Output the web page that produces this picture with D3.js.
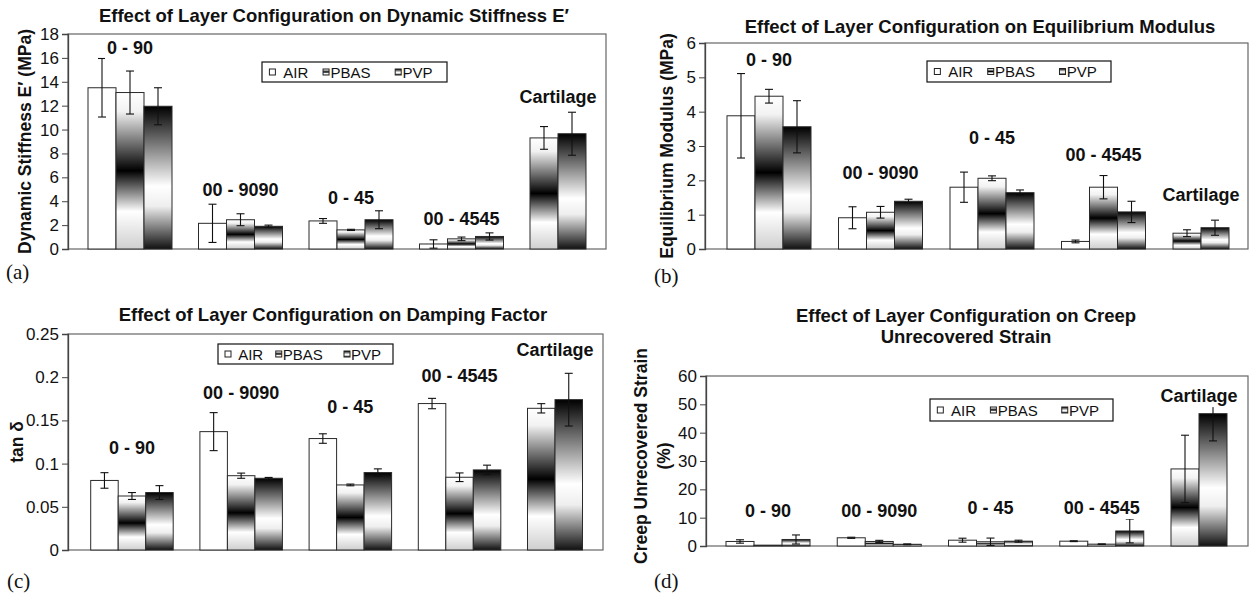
<!DOCTYPE html>
<html>
<head>
<meta charset="utf-8">
<script src="https://cdn.jsdelivr.net/npm/d3@7"></script>
<style>
body { margin: 0; background: #fff; }
svg { display: block; font-family: "Liberation Sans", Arial, sans-serif; }
</style>
</head>
<body>
<svg id="chart" width="1250" height="594"></svg>
<script>
// categories (layer configurations) and series (fabrication methods)
const categories = ["0 - 90", "00 - 9090", "0 - 45", "00 - 4545", "Cartilage"];
const seriesNames = ["AIR", "PBAS", "PVP"];

// (a) dynamic stiffness E' (MPa), one row per series
const stiffnessMeans = [
  [13.5, 2.15, 2.35, 0.42, null],
  [13.1, 2.45, 1.6, 0.85, 9.3],
  [11.95, 1.9, 2.45, 1.05, 9.65]
];
const stiffnessErrors = [
  [2.45, 1.6, 0.2, 0.35, null],
  [1.8, 0.5, 0.05, 0.15, 0.95],
  [1.55, 0.1, 0.75, 0.3, 1.8]
];

// (b) equilibrium modulus (MPa)
const modulusMeans = [
  [3.88, 0.91, 1.8, 0.22, null],
  [4.45, 1.07, 2.06, 1.8, 0.46],
  [3.56, 1.39, 1.64, 1.08, 0.62]
];
const modulusErrors = [
  [1.23, 0.32, 0.44, 0.04, null],
  [0.2, 0.17, 0.07, 0.34, 0.1],
  [0.76, 0.06, 0.08, 0.31, 0.22]
];

// (c) damping factor tan delta
const dampingMeans = [
  [0.0805, 0.137, 0.129, 0.1695, null],
  [0.0625, 0.086, 0.0753, 0.0842, 0.164],
  [0.0665, 0.083, 0.0896, 0.0927, 0.174]
];
const dampingErrors = [
  [0.009, 0.022, 0.0055, 0.006, null],
  [0.004, 0.003, 0.001, 0.005, 0.0054],
  [0.008, 0.001, 0.0043, 0.0055, 0.0305]
];

// (d) creep unrecovered strain (%)
const creepMeans = [
  [1.6, 2.9, 2.05, 1.7, null],
  [0.3, 1.6, 1.5, 0.65, 27.2],
  [2.3, 0.6, 1.7, 5.3, 46.7]
];
const creepErrors = [
  [0.6, 0.2, 0.7, 0.15, null],
  [0, 0.4, 1.3, 0.1, 11.9],
  [1.6, 0.15, 0.35, 4.2, 9.6]
];

const svg = d3.select("#chart");
const defs = svg.append("defs");

// gradient fills like the excel "from center" shading
function addGradient(id, stops) {
  const g = defs.append("linearGradient")
    .attr("id", id)
    .attr("x1", 0).attr("y1", 0).attr("x2", 0).attr("y2", 1);
  stops.forEach(s => g.append("stop").attr("offset", s[0]).attr("stop-color", s[1]));
}
addGradient("gradPBAS", [[0, "#fff"], [0.12, "#f2f2f2"], [0.5, "#000"], [0.76, "#fff"], [1, "#cfcfcf"]]);
addGradient("gradPVP", [[0, "#000"], [0.56, "#fff"], [0.7, "#eee"], [1, "#111"]]);
const fills = ["#fff", "url(#gradPBAS)", "url(#gradPVP)"];

const panels = [
  {
    means: stiffnessMeans, errors: stiffnessErrors, yMax: 18, yStep: 2,
    left: 68, top: 34, right: 606, bottom: 249, groupStart: 88, step: 110.5, barW: 28,
    title: ["Effect of Layer Configuration on Dynamic Stiffness E\u2032"], titleX: 334, titleY: 22,
    yTitle: ["Dynamic Stiffness E\u2032 (MPa)"], yTitleX: [31],
    labelAt: [16.8, 4.94, 4.27, 2.5, 12.7],
    legend: {x: 262, y: 62, w: 185, h: 20},
    letter: "(a)", letterX: 6, letterY: 279
  },
  {
    means: modulusMeans, errors: modulusErrors, yMax: 6, yStep: 1,
    left: 705, top: 43, right: 1248, bottom: 249, groupStart: 727, step: 111.5, barW: 28,
    title: ["Effect of Layer Configuration on Equilibrium Modulus"], titleX: 980, titleY: 33,
    yTitle: ["Equilibrium Modulus (MPa)"], yTitleX: [673],
    labelAt: [5.5, 2.21, 3.23, 2.74, 1.57],
    legend: {x: 927, y: 61, w: 184, h: 21},
    letter: "(b)", letterX: 654, letterY: 283
  },
  {
    means: dampingMeans, errors: dampingErrors, yMax: 0.25, yStep: 0.05,
    left: 68, top: 334, right: 603, bottom: 550, groupStart: 90.7, step: 109.2, barW: 27.5,
    title: ["Effect of Layer Configuration on Damping Factor"], titleX: 333, titleY: 321,
    yTitle: ["tan \u03b4"], yTitleX: [23],
    labelAt: [0.118, 0.1817, 0.1655, 0.2014, 0.2315],
    legend: {x: 218, y: 344, w: 175, h: 20},
    letter: "(c)", letterX: 7, letterY: 588
  },
  {
    means: creepMeans, errors: creepErrors, yMax: 60, yStep: 10,
    left: 706, top: 376, right: 1248, bottom: 546, groupStart: 726, step: 111.25, barW: 28,
    title: ["Effect of Layer Configuration on Creep", "Unrecovered Strain"], titleX: 966, titleY: 322,
    yTitle: ["Creep Unrecovered Strain", "(%)"], yTitleX: [647, 670],
    labelAt: [12.35, 12.35, 13.4, 13.4, 52.9],
    legend: {x: 930, y: 399, w: 183, h: 22},
    letter: "(d)", letterX: 654, letterY: 588
  }
];

panels.forEach(drawPanel);

function drawPanel(p) {
  const g = svg.append("g");

  const y = d3.scaleLinear().domain([0, p.yMax]).range([p.bottom, p.top]);
  const pad = 1 - 3 * p.barW / p.step;
  const r0 = p.groupStart - p.step * pad / 2;
  const x0 = d3.scaleBand()
    .domain(categories)
    .range([r0, r0 + p.step * categories.length])
    .paddingInner(pad)
    .paddingOuter(pad / 2);
  const x1 = d3.scaleBand().domain(d3.range(seriesNames.length)).range([0, x0.bandwidth()]);

  // plot frame
  g.append("rect")
    .attr("x", p.left).attr("y", p.top)
    .attr("width", p.right - p.left).attr("height", p.bottom - p.top)
    .attr("fill", "none").attr("stroke", "#666").attr("stroke-width", 1.2);

  // y axis
  const nTicks = Math.round(p.yMax / p.yStep);
  const axis = d3.axisLeft(y)
    .tickValues(d3.range(nTicks + 1).map(i => i * p.yStep))
    .tickFormat(d3.format("~g"))
    .tickSize(6).tickPadding(3);
  const ag = g.append("g").attr("transform", `translate(${p.left},0)`).call(axis);
  ag.attr("font-size", null).attr("font-family", null);
  ag.select(".domain").attr("stroke", "#444").attr("stroke-width", 1.3);
  ag.selectAll(".tick line").attr("stroke", "#444");
  ag.selectAll(".tick text")
    .attr("fill", "#111")
    .style("font-size", "17px");

  // flatten bars; cartilage has no AIR value so its bars shift one slot left
  const bars = [];
  categories.forEach((c, i) => {
    const shift = p.means[0][i] == null ? 1 : 0;
    seriesNames.forEach((s, k) => {
      const v = p.means[k][i];
      if (v == null) return;
      bars.push({cat: c, k: k, slot: k - shift, v: v, e: p.errors[k][i]});
    });
  });

  g.append("g").selectAll("rect")
    .data(bars)
    .join("rect")
    .attr("x", d => x0(d.cat) + x1(d.slot))
    .attr("y", d => y(d.v))
    .attr("width", x1.bandwidth())
    .attr("height", d => y(0) - y(d.v))
    .attr("fill", d => fills[d.k])
    .attr("stroke", "#2a2a2a")
    .attr("stroke-width", 1);

  // error bars
  const cap = 4;
  const eg = g.append("g").attr("stroke", "#111").attr("stroke-width", 1.1);
  bars.filter(d => d.e > 0).forEach(d => {
    const cx = x0(d.cat) + x1(d.slot) + x1.bandwidth() / 2;
    const yt = y(d.v + d.e), yb = y(Math.max(0, d.v - d.e));
    eg.append("line").attr("x1", cx).attr("x2", cx).attr("y1", yt).attr("y2", yb);
    eg.append("line").attr("x1", cx - cap).attr("x2", cx + cap).attr("y1", yt).attr("y2", yt);
    eg.append("line").attr("x1", cx - cap).attr("x2", cx + cap).attr("y1", yb).attr("y2", yb);
  });

  // group labels above the bars, with white background like excel data labels
  categories.forEach((c, i) => {
    const shift = p.means[0][i] == null ? 1 : 0;
    const nb = seriesNames.length - shift;
    const cx = x0(c) + nb * x1.bandwidth() / 2;
    const cy = y(p.labelAt[i]);
    const lg = g.append("g");
    const t = lg.append("text")
      .attr("x", cx).attr("y", cy)
      .attr("text-anchor", "middle")
      .attr("dominant-baseline", "central")
      .style("font-size", "18px").style("font-weight", "bold")
      .attr("fill", "#111")
      .text(c);
    const w = t.node().getComputedTextLength();
    lg.insert("rect", "text")
      .attr("x", cx - w / 2 - 2).attr("y", cy - 11)
      .attr("width", w + 4).attr("height", 22)
      .attr("fill", "#fff");
  });

  // legend
  const L = p.legend;
  const lg = g.append("g").attr("transform", `translate(${L.x},${L.y})`);
  lg.append("rect").attr("width", L.w).attr("height", L.h)
    .attr("fill", "#fff").attr("stroke", "#111").attr("stroke-width", 1.2);
  const symX = [0.04, 0.33, 0.72], txtX = [0.115, 0.37, 0.76];
  seriesNames.forEach((s, k) => {
    lg.append("rect")
      .attr("x", L.w * symX[k]).attr("y", L.h / 2 - 3)
      .attr("width", 6).attr("height", 6)
      .attr("fill", fills[k]).attr("stroke", "#222").attr("stroke-width", 1);
    lg.append("text")
      .attr("x", L.w * txtX[k]).attr("y", L.h / 2)
      .attr("dominant-baseline", "central")
      .style("font-size", "15px")
      .attr("fill", "#111")
      .text(s);
  });

  // chart title
  g.append("g").selectAll("text")
    .data(p.title)
    .join("text")
    .attr("x", p.titleX)
    .attr("y", (d, i) => p.titleY + i * 21)
    .attr("text-anchor", "middle")
    .style("font-size", "18.5px").style("font-weight", "bold")
    .attr("fill", "#111")
    .text(d => d);

  // y axis title
  const cy = (p.top + p.bottom) / 2 - (p.yTitle.length > 1 ? 5 : 0);
  p.yTitle.forEach((t, i) => {
    g.append("text")
      .attr("transform", `translate(${p.yTitleX[i]},${cy}) rotate(-90)`)
      .attr("text-anchor", "middle")
      .style("font-size", "17.5px").style("font-weight", "bold")
      .attr("fill", "#111")
      .text(t);
  });

  // panel letter
  g.append("text")
    .attr("x", p.letterX).attr("y", p.letterY)
    .style("font-family", "'Liberation Serif', 'Times New Roman', serif")
    .style("font-size", "21px")
    .attr("fill", "#111")
    .text(p.letter);
}
</script>
</body>
</html>
